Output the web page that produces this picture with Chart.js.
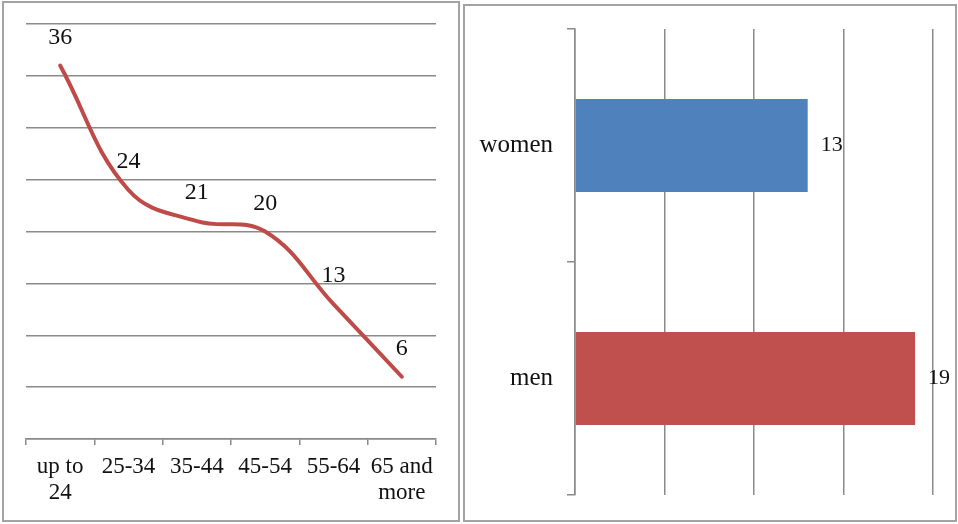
<!DOCTYPE html>
<html>
<head>
<meta charset="utf-8">
<script src="https://cdn.jsdelivr.net/npm/chart.js@4.4.1/dist/chart.umd.min.js"></script>
<style>
  html, body { margin: 0; padding: 0; background: #fff; }
  body { width: 958px; height: 524px; position: relative; overflow: hidden; }
  .frame { position: absolute; box-sizing: border-box; border: 2px solid #A3A3A3; }
  canvas { position: absolute; top: 0; }
</style>
</head>
<body>
<div class="frame" style="left:2px;top:1px;width:458px;height:521px;"></div>
<div class="frame" style="left:463px;top:4px;width:494px;height:518px;"></div>
<canvas id="age-chart" width="460" height="524" style="left:0;"></canvas>
<canvas id="gender-chart" width="498" height="524" style="left:460px;"></canvas>
<script>
// datos del gráfico de edades
const ageLabels = [['up to', '24'], '25-34', '35-44', '45-54', '55-64', ['65 and', 'more']];
const ageValues = [36, 24, 21, 20, 13, 6];
const ageAxisMin = 0;
const ageAxisMax = 40;
const ageAxisStep = 5;

// datos del gráfico por sexo
const genderLabels = ['women', 'men'];
const genderValues = [13, 19];
const genderColors = ['#4F81BD', '#C0504D'];
const genderAxisMin = 0;
const genderAxisMax = 20;
const genderAxisStep = 5;

const serif = '"Liberation Serif", "Times New Roman", serif';
const gridColor = '#8A8A8A';
const textColor = '#111111';

// Etiquetas de valor dibujadas sobre cada punto / barra
const valueLabels = {
    id: 'valueLabels',
    afterDatasetsDraw(chart, args, opts) {
        const ctx = chart.ctx;
        const meta = chart.getDatasetMeta(0);
        const data = chart.data.datasets[0].data;
        ctx.save();
        ctx.font = opts.font;
        ctx.fillStyle = textColor;
        ctx.textAlign = opts.align;
        ctx.textBaseline = 'middle';
        meta.data.forEach((el, i) => {
            const p = el.getProps(['x', 'y'], true);
            ctx.fillText(String(data[i]), p.x + opts.dx, p.y + opts.dy);
        });
        ctx.restore();
    }
};

// --- Gráfico de líneas por edad ---
new Chart(document.getElementById('age-chart').getContext('2d'), {
    type: 'line',
    data: {
        labels: ageLabels,
        datasets: [{
            data: ageValues,
            borderColor: '#BE4B48',
            borderWidth: 4,
            borderCapStyle: 'round',
            tension: 0.4,
            fill: false,
            pointRadius: 0
        }]
    },
    plugins: [valueLabels],
    options: {
        responsive: false,
        animation: false,
        layout: { padding: { left: 26, top: 24, right: 24, bottom: 0 } },
        plugins: {
            legend: { display: false },
            tooltip: { enabled: false },
            valueLabels: { font: '24px ' + serif, align: 'center', dx: 0, dy: -28 }
        },
        scales: {
            x: {
                offset: true,
                grid: { offset: true, drawOnChartArea: false, drawTicks: true, tickLength: 6, color: gridColor, lineWidth: 1.5 },
                border: { display: true, color: gridColor, width: 1.5 },
                ticks: { color: textColor, padding: 9, maxRotation: 0, autoSkip: false, font: { family: serif, size: 23, lineHeight: 1.13 } },
                afterFit(scale) { scale.height = 85; }
            },
            y: {
                min: ageAxisMin,
                max: ageAxisMax,
                ticks: { display: false, stepSize: ageAxisStep },
                grid: { color: gridColor, lineWidth: 1.5, drawTicks: false },
                border: { display: false },
                afterFit(scale) { scale.width = 0; }
            }
        }
    }
});

// --- Gráfico de barras por sexo ---
new Chart(document.getElementById('gender-chart').getContext('2d'), {
    type: 'bar',
    data: {
        labels: genderLabels,
        datasets: [{
            data: genderValues,
            backgroundColor: genderColors,
            borderWidth: 0,
            barPercentage: 0.4,
            categoryPercentage: 1
        }]
    },
    plugins: [valueLabels],
    options: {
        indexAxis: 'y',
        responsive: false,
        animation: false,
        layout: { padding: { left: 0, top: 27, right: 25, bottom: 27 } },
        plugins: {
            legend: { display: false },
            tooltip: { enabled: false },
            valueLabels: { font: '22px ' + serif, align: 'left', dx: 13, dy: 0 }
        },
        scales: {
            x: {
                min: genderAxisMin,
                max: genderAxisMax,
                ticks: { display: false, stepSize: genderAxisStep },
                grid: { color: gridColor, lineWidth: 1.5, drawTicks: false },
                border: { display: false },
                afterFit(scale) { scale.height = 0; }
            },
            y: {
                offset: true,
                grid: { offset: true, drawOnChartArea: false, drawTicks: true, tickLength: 8, color: gridColor, lineWidth: 1.5 },
                border: { display: true, color: gridColor, width: 1.5 },
                ticks: { color: textColor, padding: 14, font: { family: serif, size: 25 } },
                afterFit(scale) { scale.width = 115; }
            }
        }
    }
});
</script>
</body>
</html>
